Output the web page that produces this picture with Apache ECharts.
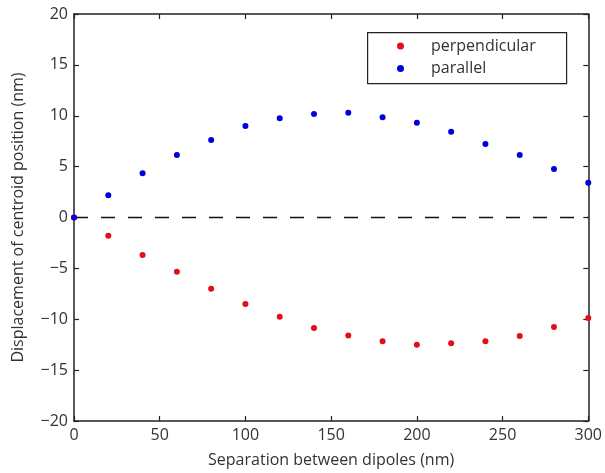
<!DOCTYPE html>
<html><head><meta charset="utf-8">
<script src="https://cdn.jsdelivr.net/npm/echarts@6/dist/echarts.min.js"></script>
<style>html,body{margin:0;padding:0;background:#fff}#c{width:605px;height:473px}</style>
</head><body><div id="c"></div>
<script>
const separation = [0,20,40,60,80,100,120,140,160,180,200,220,240,260,280,300];
const perpendicular = [0,-1.79,-3.69,-5.32,-7.0,-8.5,-9.75,-10.86,-11.6,-12.17,-12.5,-12.37,-12.17,-11.65,-10.76,-9.88];
const parallel = [0,2.18,4.34,6.14,7.62,8.99,9.75,10.17,10.30,9.85,9.32,8.43,7.22,6.14,4.77,3.42];
const xTicks = [0,50,100,150,200,250,300];
const yTicks = [-20,-15,-10,-5,0,5,10,15,20];

const font = 'Open Sans';
const pair = (xs, ys) => xs.map((x,i)=>[x, ys[i]]);
const chart = echarts.init(document.getElementById('c'), null, {renderer:'canvas'});
const axisCommon = {
  axisLine:{show:true, onZero:false, lineStyle:{color:'#222', width:1.5}},
  axisTick:{show:true, inside:true, length:5, lineStyle:{color:'#222', width:1.2}},
  splitLine:{show:false}
};
chart.setOption({
  animation:false,
  grid:{left:74, right:15, top:14, bottom:52, containLabel:false},
  graphic:[{type:'rect', left:367, top:32, z:5,
    shape:{width:199, height:51},
    style:{fill:'#fff', stroke:'#222', lineWidth:1.2}}],
  legend:{
    data:['perpendicular','parallel'],
    orient:'vertical', left:397, top:37, z:10,
    padding:0, itemGap:4.6,
    itemWidth:7, itemHeight:7, icon:'circle',
    textStyle:{fontFamily:font, fontSize:16, lineHeight:18, color:'#333', padding:[0,0,0,22]}
  },
  xAxis:[
    Object.assign({type:'value', min:0, max:300, interval:50, position:'bottom',
      name:'Separation between dipoles (nm)', nameLocation:'middle', nameGap:31,
      nameTextStyle:{fontFamily:font, fontSize:16, color:'#333'},
      axisLabel:{fontFamily:font, fontSize:16, color:'#333', margin:6,
        formatter:v=>xTicks.includes(v)?String(v):''}}, axisCommon),
    Object.assign({type:'value', min:0, max:300, interval:50, position:'top',
      axisLabel:{show:false}}, axisCommon)
  ],
  yAxis:[
    Object.assign({type:'value', min:-20, max:20, interval:5, position:'left',
      name:'Displacement of centroid position (nm)', nameLocation:'middle', nameGap:48,
      nameTextStyle:{fontFamily:font, fontSize:16, color:'#333'},
      axisLabel:{fontFamily:font, fontSize:16, color:'#333', margin:6,
        formatter:v=>yTicks.includes(v)?String(v).replace('-','\u2212'):''}}, axisCommon),
    Object.assign({type:'value', min:-20, max:20, interval:5, position:'right',
      axisLabel:{show:false}}, axisCommon)
  ],
  series:[
    {type:'line', data:[[0,0],[300,0]], symbol:'none', silent:true, z:1,
      lineStyle:{color:'#111', width:1.3, type:[14,13]}},
    {name:'perpendicular', type:'scatter', data:pair(separation, perpendicular),
      symbolSize:6, itemStyle:{color:'#e0101a', opacity:1}, z:3},
    {name:'parallel', type:'scatter', data:pair(separation, parallel),
      symbolSize:6, itemStyle:{color:'#0000dd', opacity:1}, z:3}
  ]
});
</script></body></html>
